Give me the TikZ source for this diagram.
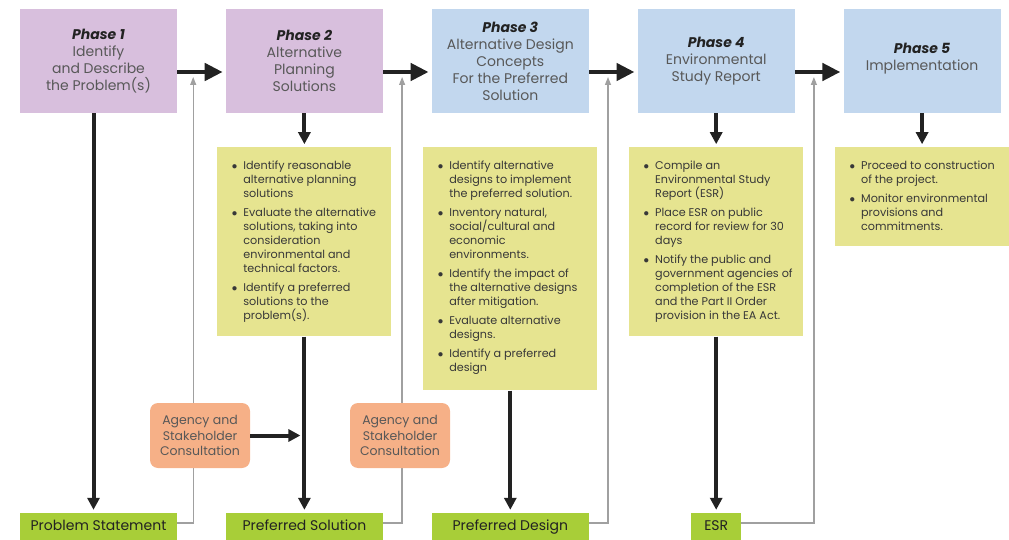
\documentclass[tikz,border=0pt]{standalone}
\usepackage{fontspec}
\setmainfont{Poppins}
\usepackage{enumitem}
\usepackage{tikz}
\usetikzlibrary{arrows.meta,positioning,calc}

\definecolor{lilac}{RGB}{216,191,221}
\definecolor{phaseblue}{RGB}{194,215,238}
\definecolor{notebg}{RGB}{230,228,144}
\definecolor{outgreen}{RGB}{168,206,56}
\definecolor{consultbg}{RGB}{246,176,135}
\definecolor{linkgray}{RGB}{160,160,160}
\definecolor{ink}{RGB}{34,34,34}
\definecolor{softink}{RGB}{88,88,88}

\setlist[itemize]{label=$\bullet$, leftmargin=26pt, labelsep=6pt, rightmargin=2pt,
  topsep=0pt, partopsep=0pt, itemsep=5pt, parsep=0pt}

\newcommand{\ptitle}[1]{{\color{ink}\bfseries\itshape #1}}
\newcommand{\notelist}[2]{%
  \begin{minipage}[c][#1][t]{176pt}\raggedright
  \vspace*{14pt}
  \begin{itemize}#2\end{itemize}
  \end{minipage}}

\begin{document}
\begin{tikzpicture}[
  x=1pt, y=-1pt,
  node distance=34pt and 48.5pt,
  phase/.style={minimum width=157pt, minimum height=104pt, inner sep=2pt, align=center,
                text=softink, font=\fontsize{14}{17}\selectfont},
  note/.style={fill=notebg, inner sep=0pt, text=ink!90, font=\fontsize{11.2}{14}\selectfont},
  result/.style={fill=outgreen, minimum height=28pt, inner sep=0pt, text=ink,
                 text height=10pt, text depth=3pt, font=\fontsize{14}{16}\selectfont},
  consult/.style={fill=consultbg, rounded corners=8pt, minimum width=100pt, minimum height=65pt,
                  inner sep=0pt, align=center, text=softink, font=\fontsize{12.5}{15.5}\selectfont},
  flow/.style={-{Triangle[length=18pt,width=17pt]}, line width=4.5pt, draw=ink, shorten >=3pt},
  drop/.style={-{Triangle[length=12pt,width=12pt]}, line width=4pt, draw=ink, shorten >=3pt},
  feed/.style={-{Triangle[length=8pt,width=6pt]}, line width=1.3pt, draw=linkgray},
]
  \useasboundingbox (0,0) rectangle (1009,540);

  % phases
  \node[phase, fill=lilac] (p1) at (98.5,61) {\ptitle{Phase 1}\\Identify\\and Describe\\the Problem(s)};
  \node[phase, fill=lilac, right=of p1] (p2) {\ptitle{Phase 2}\\Alternative\\Planning\\Solutions};
  \node[phase, fill=phaseblue, right=of p2] (p3) {\ptitle{Phase 3}\\Alternative Design\\Concepts\\For the Preferred\\Solution};
  \node[phase, fill=phaseblue, right=of p3] (p4) {\ptitle{Phase 4}\\Environmental\\Study Report};
  \node[phase, fill=phaseblue, right=of p4] (p5) {\ptitle{Phase 5}\\Implementation\\[-9pt]};

  % tasks
  \node[note, below=of p2] (n2) {\notelist{189pt}{
    \item Identify reasonable\\alternative planning\\solutions
    \item Evaluate the alternative\\solutions, taking into\\consideration\\environmental and\\technical factors.
    \item Identify a preferred\\solutions to the\\problem(s).}};
  \node[note, below=of p3] (n3) {\notelist{243pt}{
    \item Identify alternative\\designs to implement\\the preferred solution.
    \item Inventory natural,\\social/cultural and\\economic\\environments.
    \item Identify the impact of\\the alternative designs\\after mitigation.
    \item Evaluate alternative\\designs.
    \item Identify a preferred\\design}};
  \node[note, below=of p4] (n4) {\notelist{189pt}{
    \item Compile an\\Environmental Study\\Report (ESR)
    \item Place ESR on public\\record for review for 30\\days
    \item Notify the public and\\government agencies of\\completion of the ESR\\and the Part II Order\\provision in the EA Act.}};
  \node[note, below=of p5] (n5) {\notelist{99pt}{
    \item Proceed to construction\\of the project.
    \item Monitor environmental\\provisions and\\commitments.}};

  % outputs
  \node[result, minimum width=157pt] (ps) at (p1 |- 0,527) {Problem Statement};
  \node[result, minimum width=157pt] (sol) at (p2 |- 0,527) {Preferred Solution};
  \node[result, minimum width=157pt] (des) at (p3 |- 0,527) {Preferred Design};
  \node[result, minimum width=50pt] (esr) at (p4 |- 0,527) {ESR};

  % feedback lines
  \draw[feed] ([yshift=4pt]ps.east) -| ([xshift=16pt,yshift=-16pt]p1.east);
  \foreach \o/\p in {sol/p2, des/p3, esr/p4}
    \draw[feed] ([yshift=4pt]\o.east) -| ([xshift=19pt,yshift=-16pt]\p.east);

  \node[consult] (a1) at (200,435.5) {Agency and\\Stakeholder\\Consultation};
  \node[consult] (a2) at (400,435.5) {Agency and\\Stakeholder\\Consultation};

  \foreach \i/\j in {p1/p2, p2/p3, p3/p4, p4/p5}
    \draw[flow] ([yshift=-11pt]\i.east) -- ([yshift=-11pt]\j.west);
  \draw[drop] ([xshift=-5pt]p1.south) -- ([xshift=-5pt]ps.north);
  \draw[drop] (p2.south) -- (n2.north);
  \draw[drop] (n2.south) -- (sol.north);
  \draw[drop] (n3.south) -- (des.north);
  \draw[drop] (p4.south) -- (n4.north);
  \draw[drop] (n4.south) -- (esr.north);
  \draw[drop] (p5.south) -- (n5.north);
  \draw[drop, shorten >=4pt] (a1.east) -- (a1.east -| n2.south);
\end{tikzpicture}
\end{document}
